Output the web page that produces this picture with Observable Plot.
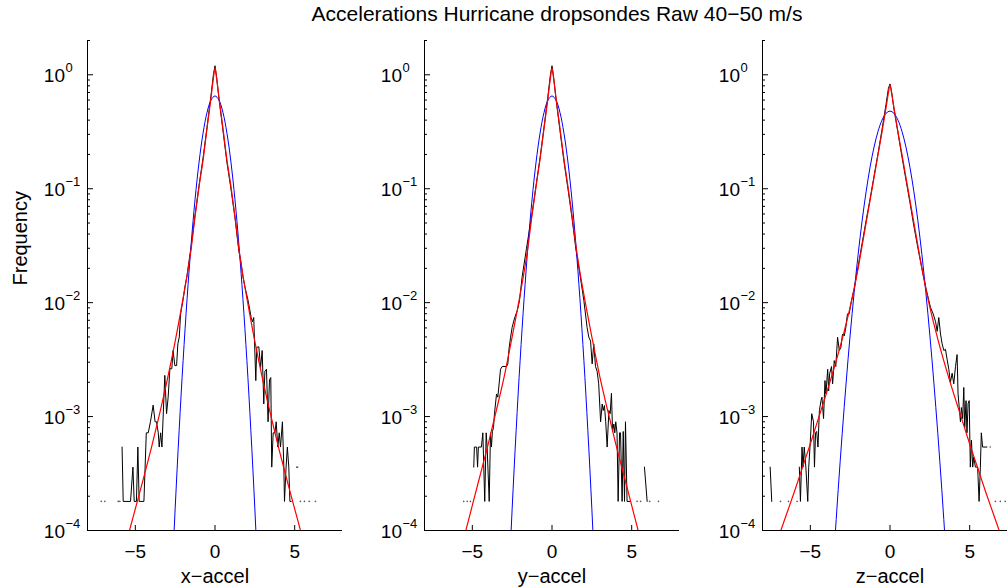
<!DOCTYPE html>
<html><head><meta charset="utf-8">
<script src="https://cdn.jsdelivr.net/npm/d3@7"></script>
<script src="https://cdn.jsdelivr.net/npm/@observablehq/plot@0.6"></script>
<style>
body{margin:0;background:#fff;}
#chart{position:relative;width:1007px;height:588px;overflow:hidden;font-family:"Liberation Sans",Arial,Helvetica,sans-serif;background:#fff;}
#chart svg{position:absolute;top:0;}
#title{position:absolute;top:2px;left:257px;width:600px;text-align:center;font-size:21px;line-height:24px;color:#000;white-space:nowrap;}
</style></head><body><div id="chart"><div id="title">Accelerations Hurricane dropsondes Raw 40−50 m/s</div></div>
<script>
// ---------- data ----------
const titleText = "Accelerations Hurricane dropsondes Raw 40−50 m/s";
const yLabel = "Frequency";
const xLabels = ["x−accel", "y−accel", "z−accel"];
const yTicks = [1e-4, 1e-3, 1e-2, 1e-1, 1];
const yTickExps = ["−4", "−3", "−2", "−1", "0"];
const xTicks = [-5, 0, 5];
const xTickLabels = ["−5", "0", "5"];
const minorMantissas = [2, 3, 4, 5, 6, 7, 8, 9];
const minorDecades = [1e-4, 1e-3, 1e-2, 1e-1];

// red fitted curves
const redX = [-7.5,-7,-6.5,-6,-5.5,-5,-4.5,-4,-3.5,-3,-2.5,-2,-1.75,-1.5,-1.25,-1,-0.75,-0.5,-0.25,-0.1,0,0.1,0.25,0.5,0.75,1,1.25,1.5,1.75,2,2.5,3,3.5,4,4.5,5,5.5,6,6.5,7,7.5];
const redP1 = [8.9e-6,1.55e-5,2.69e-5,4.79e-5,8.51e-5,1.55e-4,2.82e-4,5.25e-4,1.023e-3,2.09e-3,4.57e-3,0.01096,0.0174,0.0295,0.0575,0.105,0.178,0.339,0.631,0.933,1.148,0.933,0.631,0.339,0.178,0.105,0.0575,0.0295,0.0174,0.01096,4.57e-3,2.09e-3,1.023e-3,5.25e-4,2.82e-4,1.55e-4,8.51e-5,4.79e-5,2.69e-5,1.55e-5,8.9e-6];
const redP2 = [8.9e-6,1.55e-5,2.75e-5,4.9e-5,8.91e-5,1.66e-4,3.09e-4,5.75e-4,1.12e-3,2.24e-3,5.01e-3,0.01175,0.0186,0.0316,0.0589,0.105,0.182,0.339,0.631,0.933,1.148,0.933,0.631,0.339,0.182,0.105,0.0589,0.0316,0.0186,0.01175,5.01e-3,2.24e-3,1.12e-3,5.75e-4,3.09e-4,1.66e-4,8.91e-5,4.9e-5,2.75e-5,1.55e-5,8.9e-6];
const redP3 = [5.5e-5,8.71e-5,1.38e-4,2.19e-4,3.55e-4,5.75e-4,9.55e-4,1.58e-3,2.69e-3,4.79e-3,9.12e-3,0.02,0.0316,0.0501,0.0794,0.126,0.2,0.316,0.513,0.692,0.817,0.692,0.513,0.316,0.2,0.126,0.0794,0.0501,0.0316,0.02,9.12e-3,4.79e-3,2.69e-3,1.58e-3,9.55e-4,5.75e-4,3.55e-4,2.19e-4,1.38e-4,8.71e-5,5.5e-5];

// blue gaussian curves
const blueX = [-3.75,-3.5,-3.25,-3,-2.75,-2.5,-2.25,-2,-1.75,-1.5,-1.25,-1,-0.75,-0.5,-0.25,0,0.25,0.5,0.75,1,1.25,1.5,1.75,2,2.25,2.5,2.75,3,3.25,3.5,3.75];
const blueP12 = [4.5e-9,5.1e-8,4.88e-7,3.93e-6,2.68e-5,1.55e-4,7.54e-4,3.12e-3,0.0109,0.0323,0.0808,0.1714,0.3074,0.4667,0.5995,0.652,0.5995,0.4667,0.3074,0.1714,0.0808,0.0323,0.0109,3.12e-3,7.54e-4,1.55e-4,2.68e-5,3.93e-6,4.88e-7,5.1e-8,4.5e-9];
const blueP3 = [1.81e-5,6.74e-5,2.286e-4,7.09e-4,2.008e-3,5.19e-3,0.01227,0.0265,0.0522,0.094,0.1547,0.2325,0.3192,0.4003,0.4585,0.48,0.4585,0.4003,0.3192,0.2325,0.1547,0.094,0.0522,0.0265,0.01227,5.19e-3,2.008e-3,7.09e-4,2.286e-4,6.74e-5,1.81e-5];

// black empirical histograms (null = gap)
const blackX1 = [-5.83,-5.76,-5.30,-5.15,-5.07,-4.93,-4.84,-4.76,-4.46,-4.31,-4.19,-4.05,-3.88,-3.76,-3.67,-3.56,-3.50,-3.41,-3.33,-3.15,-3.04,-2.94,-2.83,-2.71,-2.63,-2.52,-2.41,-2.33,-2.24,-2.16,
 -2.0,-1.875,-1.75,-1.625,-1.5,-1.25,-1.0,-0.75,-0.5,-0.25,-0.1,0,0.1,0.25,0.5,0.75,1.0,1.25,1.5,1.625,1.75,1.875,
 2.08,2.27,2.35,2.43,2.56,2.62,2.75,2.86,2.96,3.06,3.13,3.23,3.33,3.42,3.50,3.56,3.65,3.76,3.84,3.94,4.03,4.11,4.23,4.32,4.36,4.46,4.54,4.63,4.70,4.78,null,5.11,5.20];
const blackY1 = [5.4e-4,1.8e-4,1.8e-4,3.6e-4,1.8e-4,1.8e-4,5.4e-4,1.8e-4,1.8e-4,7.2e-4,7.2e-4,9.0e-4,1.26e-3,9.0e-4,9.0e-4,7.2e-4,5.4e-4,7.2e-4,5.4e-4,2.3e-3,1.06e-3,1.48e-3,2.63e-3,2.63e-3,3.8e-3,2.8e-3,2.8e-3,4.35e-3,5.0e-3,7.96e-3,
 0.0107,0.0141,0.0174,0.0234,0.0309,0.0589,0.107,0.186,0.347,0.661,1.0,1.2,0.955,0.617,0.324,0.170,0.100,0.0562,0.0282,0.0229,0.0170,0.0138,
 0.0104,7.4e-3,6.8e-3,7.4e-3,2.07e-3,4.05e-3,4.1e-3,2.7e-3,3.8e-3,1.29e-3,2.5e-3,2.6e-3,9.0e-4,2.1e-3,2.2e-3,3.6e-4,7.2e-4,7.2e-4,9.0e-4,5.4e-4,7.2e-4,5.4e-4,9.0e-4,3.6e-4,1.8e-4,3.6e-4,5.4e-4,3.6e-4,1.8e-4,1.8e-4,null,3.6e-4,3.6e-4];
const dotX1 = [-7.14,-6.91,-6.07,-5.97,5.36,5.61,5.91,6.30];
const dotY1 = [1.8e-4,1.8e-4,1.8e-4,1.8e-4,1.8e-4,1.8e-4,1.8e-4,1.8e-4];

const blackX2 = [-4.91,-4.87,-4.73,-4.67,-4.62,-4.43,-4.34,-4.22,-4.13,-4.07,-3.94,-3.86,-3.80,-3.74,-3.67,-3.61,-3.48,-3.40,-3.23,-3.13,-2.85,-2.77,-2.71,-2.60,-2.50,-2.34,-2.18,-2.04,
 -1.87,-1.60,-1.25,-1.0,-0.75,-0.5,-0.25,-0.1,0,0.1,0.25,0.5,0.75,1.0,1.25,1.5,1.75,
 2.0,2.20,2.31,2.42,2.52,2.62,2.73,2.83,2.93,3.05,3.15,3.21,3.29,3.37,3.46,3.57,3.65,3.73,3.80,3.88,3.94,4.00,4.08,4.15,4.24,4.30,4.40,4.47,4.55,4.61,4.71,4.93,null,5.80,5.97];
const blackY2 = [3.6e-4,5.4e-4,5.4e-4,3.6e-4,5.4e-4,5.4e-4,7.2e-4,1.8e-4,7.2e-4,5.4e-4,1.8e-4,7.2e-4,5.4e-4,7.4e-4,8.0e-4,1.06e-3,1.58e-3,1.48e-3,2.6e-3,2.75e-3,2.75e-3,2.9e-3,3.8e-3,4.97e-3,6.07e-3,7.4e-3,8.5e-3,0.0104,
 0.0170,0.0300,0.061,0.107,0.186,0.347,0.661,1.0,1.2,0.955,0.617,0.324,0.174,0.100,0.0562,0.0295,0.0178,
 0.0104,6.07e-3,4.97e-3,4.6e-3,2.9e-3,4.35e-3,2.75e-3,2.5e-3,1.94e-3,9.0e-4,1.29e-3,1.13e-3,1.25e-3,9.0e-4,5.4e-4,1.13e-3,1.06e-3,1.6e-3,7.4e-4,8.6e-4,7.2e-4,9.0e-4,7.2e-4,1.8e-4,7.2e-4,7.2e-4,1.8e-4,7.4e-4,1.8e-4,9.0e-4,1.8e-4,1.8e-4,null,3.6e-4,1.8e-4];
const dotX2 = [-5.54,-5.32,-5.12,5.34,5.56,6.13,6.68];
const dotY2 = [1.8e-4,1.8e-4,1.8e-4,1.8e-4,1.8e-4,1.8e-4,1.8e-4];

const blackX3 = [-7.52,-7.42,null,
 -5.69,-5.62,-5.52,-5.46,-5.38,-5.28,-5.16,-5.10,-5.02,-4.91,-4.80,-4.74,-4.67,-4.60,-4.52,-4.43,-4.33,-4.27,-4.17,-4.08,-4.02,-3.91,-3.85,-3.79,-3.67,-3.60,-3.50,-3.40,-3.29,-3.18,-3.08,-2.98,-2.87,-2.77,-2.67,-2.56,-2.46,
 -2.25,-2.0,-1.75,-1.5,-1.25,-1.0,-0.75,-0.5,-0.25,-0.1,0,0.1,0.25,0.5,0.75,1.0,1.25,1.5,1.75,2.0,2.25,
 2.44,2.54,2.71,2.86,2.96,3.06,3.17,3.27,3.38,3.48,3.58,3.69,3.79,3.90,4.00,4.11,4.21,4.27,4.36,4.42,4.48,4.56,4.63,4.69,4.77,4.83,4.90,4.97,5.04,5.11,5.19,5.25,5.36,5.50,5.59,5.67,5.73,5.81,6.08];
const blackY3 = [3.6e-4,1.8e-4,null,
 3.6e-4,1.8e-4,5.4e-4,3.6e-4,5.4e-4,3.6e-4,1.8e-4,3.6e-4,5.4e-4,1.06e-3,9.0e-4,3.6e-4,7.2e-4,7.4e-4,5.4e-4,1.13e-3,1.38e-3,1.48e-3,9.6e-4,2.07e-3,1.58e-3,2.6e-3,1.68e-3,2.37e-3,2.75e-3,1.94e-3,3.1e-3,2.75e-3,4.97e-3,3.8e-3,4.05e-3,5.3e-3,5.1e-3,6.07e-3,7.96e-3,7.96e-3,9.7e-3,
 0.0132,0.0209,0.0331,0.0525,0.0813,0.129,0.204,0.331,0.550,0.759,0.832,0.708,0.501,0.309,0.191,0.120,0.0759,0.0468,0.0302,0.0200,0.0135,
 0.0104,9.1e-3,7.96e-3,6.8e-3,5.6e-3,7.4e-3,5.3e-3,4.35e-3,3.8e-3,3.9e-3,3.2e-3,2.6e-3,2.0e-3,2.4e-3,1.94e-3,2.75e-3,3.5e-3,1.58e-3,1.13e-3,9.0e-4,1.2e-3,9.6e-4,1.8e-3,8.0e-4,1.38e-3,7.2e-4,1.3e-3,1.38e-3,3.6e-4,6.2e-4,3.6e-4,4.4e-4,3.6e-4,3.6e-4,1.8e-4,3.6e-4,7.2e-4,5.4e-4,5.4e-4];
const dotX3 = [-6.87,-6.37,-5.83,6.29,6.61,6.92,7.23];
const dotY3 = [1.8e-4,1.8e-4,1.8e-4,5.4e-4,1.8e-4,1.8e-4,1.8e-4];

// ---------- layout ----------
const xDomain = [-8, 8];
const yDomain = [1e-4, 2];
const frameW = 255, frameH = 490, mTop = 40;
const panels = [
  {left: 0, width: 380, ml: 87, red: redP1, blue: blueP12, bx: blackX1, by: blackY1, dx: dotX1, dy: dotY1, label: xLabels[0], ylab: true},
  {left: 380, width: 340, ml: 44, red: redP2, blue: blueP12, bx: blackX2, by: blackY2, dx: dotX2, dy: dotY2, label: xLabels[1]},
  {left: 720, width: 300, ml: 42, red: redP3, blue: blueP3, bx: blackX3, by: blackY3, dx: dotX3, dy: dotY3, label: xLabels[2]}
];
const minorTicks = minorDecades.flatMap(d => minorMantissas.map(m => m * d)).concat([2]);
const font = '"Liberation Sans", Arial, Helvetica, sans-serif';
const chart = document.getElementById("chart");

for (const p of panels) {
  const marks = [
    Plot.line(p.bx, {x: p.bx, y: p.by, stroke: "#000", strokeWidth: 1, clip: true}),
    Plot.dot(p.dx, {x: p.dx, y: p.dy, r: 0.8, fill: "#555", stroke: null, clip: true}),
    Plot.line(blueX, {x: blueX, y: p.blue, stroke: "#0000ff", strokeWidth: 1, curve: "catmull-rom", clip: true}),
    Plot.line(redX, {x: redX, y: p.red, stroke: "#ff0000", strokeWidth: 1.2, curve: "monotone-x", clip: true}),
    Plot.ruleX([xDomain[0]], {stroke: "#000"}),
    Plot.ruleY([yDomain[0]], {stroke: "#000"}),
    Plot.ruleY(yTicks, {y: d => d, insetRight: frameW - 6, stroke: "#000"}),
    Plot.ruleY(minorTicks, {y: d => d, insetRight: frameW - 3, stroke: "#000"}),
    Plot.ruleX(xTicks, {x: d => d, insetTop: frameH - 5, stroke: "#000"}),
    Plot.text(yTicks, {x: xDomain[0], y: d => d, text: () => "10", textAnchor: "end", dx: -22.5, dy: 1.5, fontSize: 19}),
    Plot.text(yTicks, {x: xDomain[0], y: d => d, text: yTickExps, textAnchor: "start", dx: -22, dy: -7, fontSize: 13}),
    Plot.text(xTicks, {x: d => d, y: yDomain[0], text: xTickLabels, dy: 21, fontSize: 19}),
    Plot.text([p.label], {frameAnchor: "bottom", dy: 46, lineAnchor: "middle", fontSize: 20})
  ];
  if (p.ylab) marks.push(Plot.text([yLabel], {frameAnchor: "left", dx: -67, rotate: -90, fontSize: 20}));
  const svg = Plot.plot({
    width: p.width, height: 588,
    marginLeft: p.ml, marginRight: p.width - p.ml - frameW, marginTop: mTop, marginBottom: 588 - mTop - frameH,
    style: {fontFamily: font, background: "transparent", overflow: "visible", maxWidth: "none"},
    x: {domain: xDomain, axis: null},
    y: {type: "log", domain: yDomain, axis: null},
    marks
  });
  svg.style.left = p.left + "px";
  svg.style.position = "absolute";
  chart.appendChild(svg);
}
</script></body></html>
